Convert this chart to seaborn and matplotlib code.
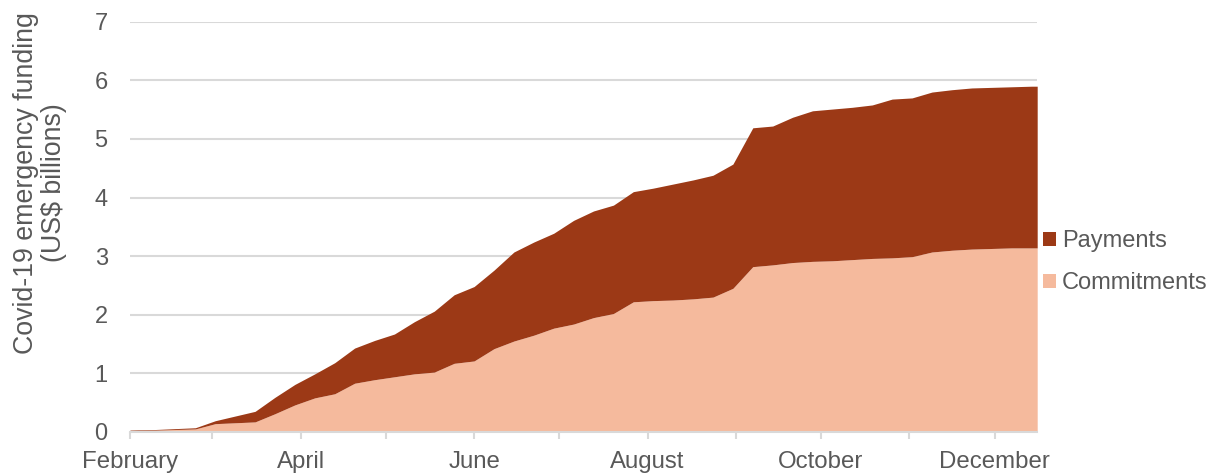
import seaborn as sns  # for styling
import matplotlib.pyplot as plt
import matplotlib.dates as mdates
import pandas as pd

# weekly Covid-19 emergency funding, US$ billions
dates = ["2020-02-01", "2020-02-10", "2020-02-17", "2020-02-24",
         "2020-03-02", "2020-03-09", "2020-03-16", "2020-03-23", "2020-03-30",
         "2020-04-06", "2020-04-13", "2020-04-20", "2020-04-27",
         "2020-05-04", "2020-05-11", "2020-05-18", "2020-05-25",
         "2020-06-01", "2020-06-08", "2020-06-15", "2020-06-22", "2020-06-29",
         "2020-07-06", "2020-07-13", "2020-07-20", "2020-07-27",
         "2020-08-03", "2020-08-10", "2020-08-17", "2020-08-24", "2020-08-31",
         "2020-09-07", "2020-09-14", "2020-09-21", "2020-09-28",
         "2020-10-05", "2020-10-12", "2020-10-19", "2020-10-26",
         "2020-11-02", "2020-11-09", "2020-11-16", "2020-11-23", "2020-11-30",
         "2020-12-07", "2020-12-14", "2020-12-16"]

commitments = [0.02, 0.03, 0.04, 0.05,
               0.14, 0.155, 0.17, 0.31, 0.46,
               0.58, 0.65, 0.83, 0.89,
               0.94, 0.99, 1.02, 1.17,
               1.21, 1.42, 1.55, 1.65, 1.77,
               1.84, 1.95, 2.02, 2.22,
               2.24, 2.25, 2.27, 2.30, 2.45,
               2.82, 2.85, 2.89, 2.91,
               2.92, 2.94, 2.96, 2.97,
               2.99, 3.07, 3.10, 3.12, 3.13,
               3.14, 3.14, 3.14]

payments = [0.01, 0.01, 0.015, 0.02,
            0.05, 0.115, 0.18, 0.28, 0.35,
            0.41, 0.53, 0.60, 0.67,
            0.73, 0.89, 1.04, 1.17,
            1.27, 1.34, 1.52, 1.59, 1.62,
            1.77, 1.82, 1.85, 1.88,
            1.92, 1.98, 2.03, 2.08, 2.12,
            2.37, 2.37, 2.48, 2.57,
            2.59, 2.60, 2.62, 2.71,
            2.71, 2.73, 2.74, 2.75, 2.75,
            2.75, 2.76, 2.76]

series_names = ["Commitments", "Payments"]
colors = ["#F5BA9D", "#9C3916"]

df = pd.DataFrame({"date": pd.to_datetime(dates),
                   "Commitments": commitments,
                   "Payments": payments})

sns.set_theme(style="white")
plt.rcParams["font.family"] = ["Liberation Sans", "DejaVu Sans"]
text_grey = "#595959"
grid_grey = "#D9D9D9"

fig = plt.figure(figsize=(12.26, 4.73), dpi=100)
ax = fig.add_axes([0.106, 0.087, 0.740, 0.867])

ax.stackplot(df["date"], df["Commitments"], df["Payments"],
             labels=series_names, colors=colors, linewidth=0, zorder=2)

ax.set_ylim(0, 7)
ax.set_yticks(range(0, 8))
ax.set_xlim(pd.Timestamp("2020-02-01"), pd.Timestamp("2020-12-16"))

ax.xaxis.set_major_locator(mdates.MonthLocator(bymonth=[2, 4, 6, 8, 10, 12]))
ax.xaxis.set_major_formatter(mdates.DateFormatter("%B"))
ax.xaxis.set_minor_locator(mdates.MonthLocator())

ax.yaxis.grid(True, color=grid_grey, linewidth=1.5, zorder=0)
ax.set_axisbelow(True)
sns.despine(ax=ax, left=True, top=True, right=True)
ax.spines["bottom"].set_color(grid_grey)
ax.spines["bottom"].set_linewidth(1.5)
ax.spines["bottom"].set_zorder(3)

ax.tick_params(axis="y", length=0, pad=16, labelsize=17, labelcolor=text_grey)
ax.tick_params(axis="x", which="both", bottom=True, length=5, width=1.5,
               color=grid_grey, pad=9, labelsize=17.3, labelcolor=text_grey)

ax.set_ylabel("Covid-19 emergency funding\n(US$ billions)", fontsize=19.3,
              color=text_grey, linespacing=1.1)
ax.yaxis.set_label_coords(-0.0695, 0.607)

handles, labels = ax.get_legend_handles_labels()
leg = ax.legend(handles[::-1], labels[::-1], loc="center left",
                bbox_to_anchor=(0.988, 0.414), frameon=False, fontsize=17,
                handlelength=0.55, handleheight=0.55, handletextpad=0.25,
                labelspacing=0.85, borderaxespad=0.3)
for t in leg.get_texts():
    t.set_color(text_grey)

plt.savefig("out.png", dpi=100)
